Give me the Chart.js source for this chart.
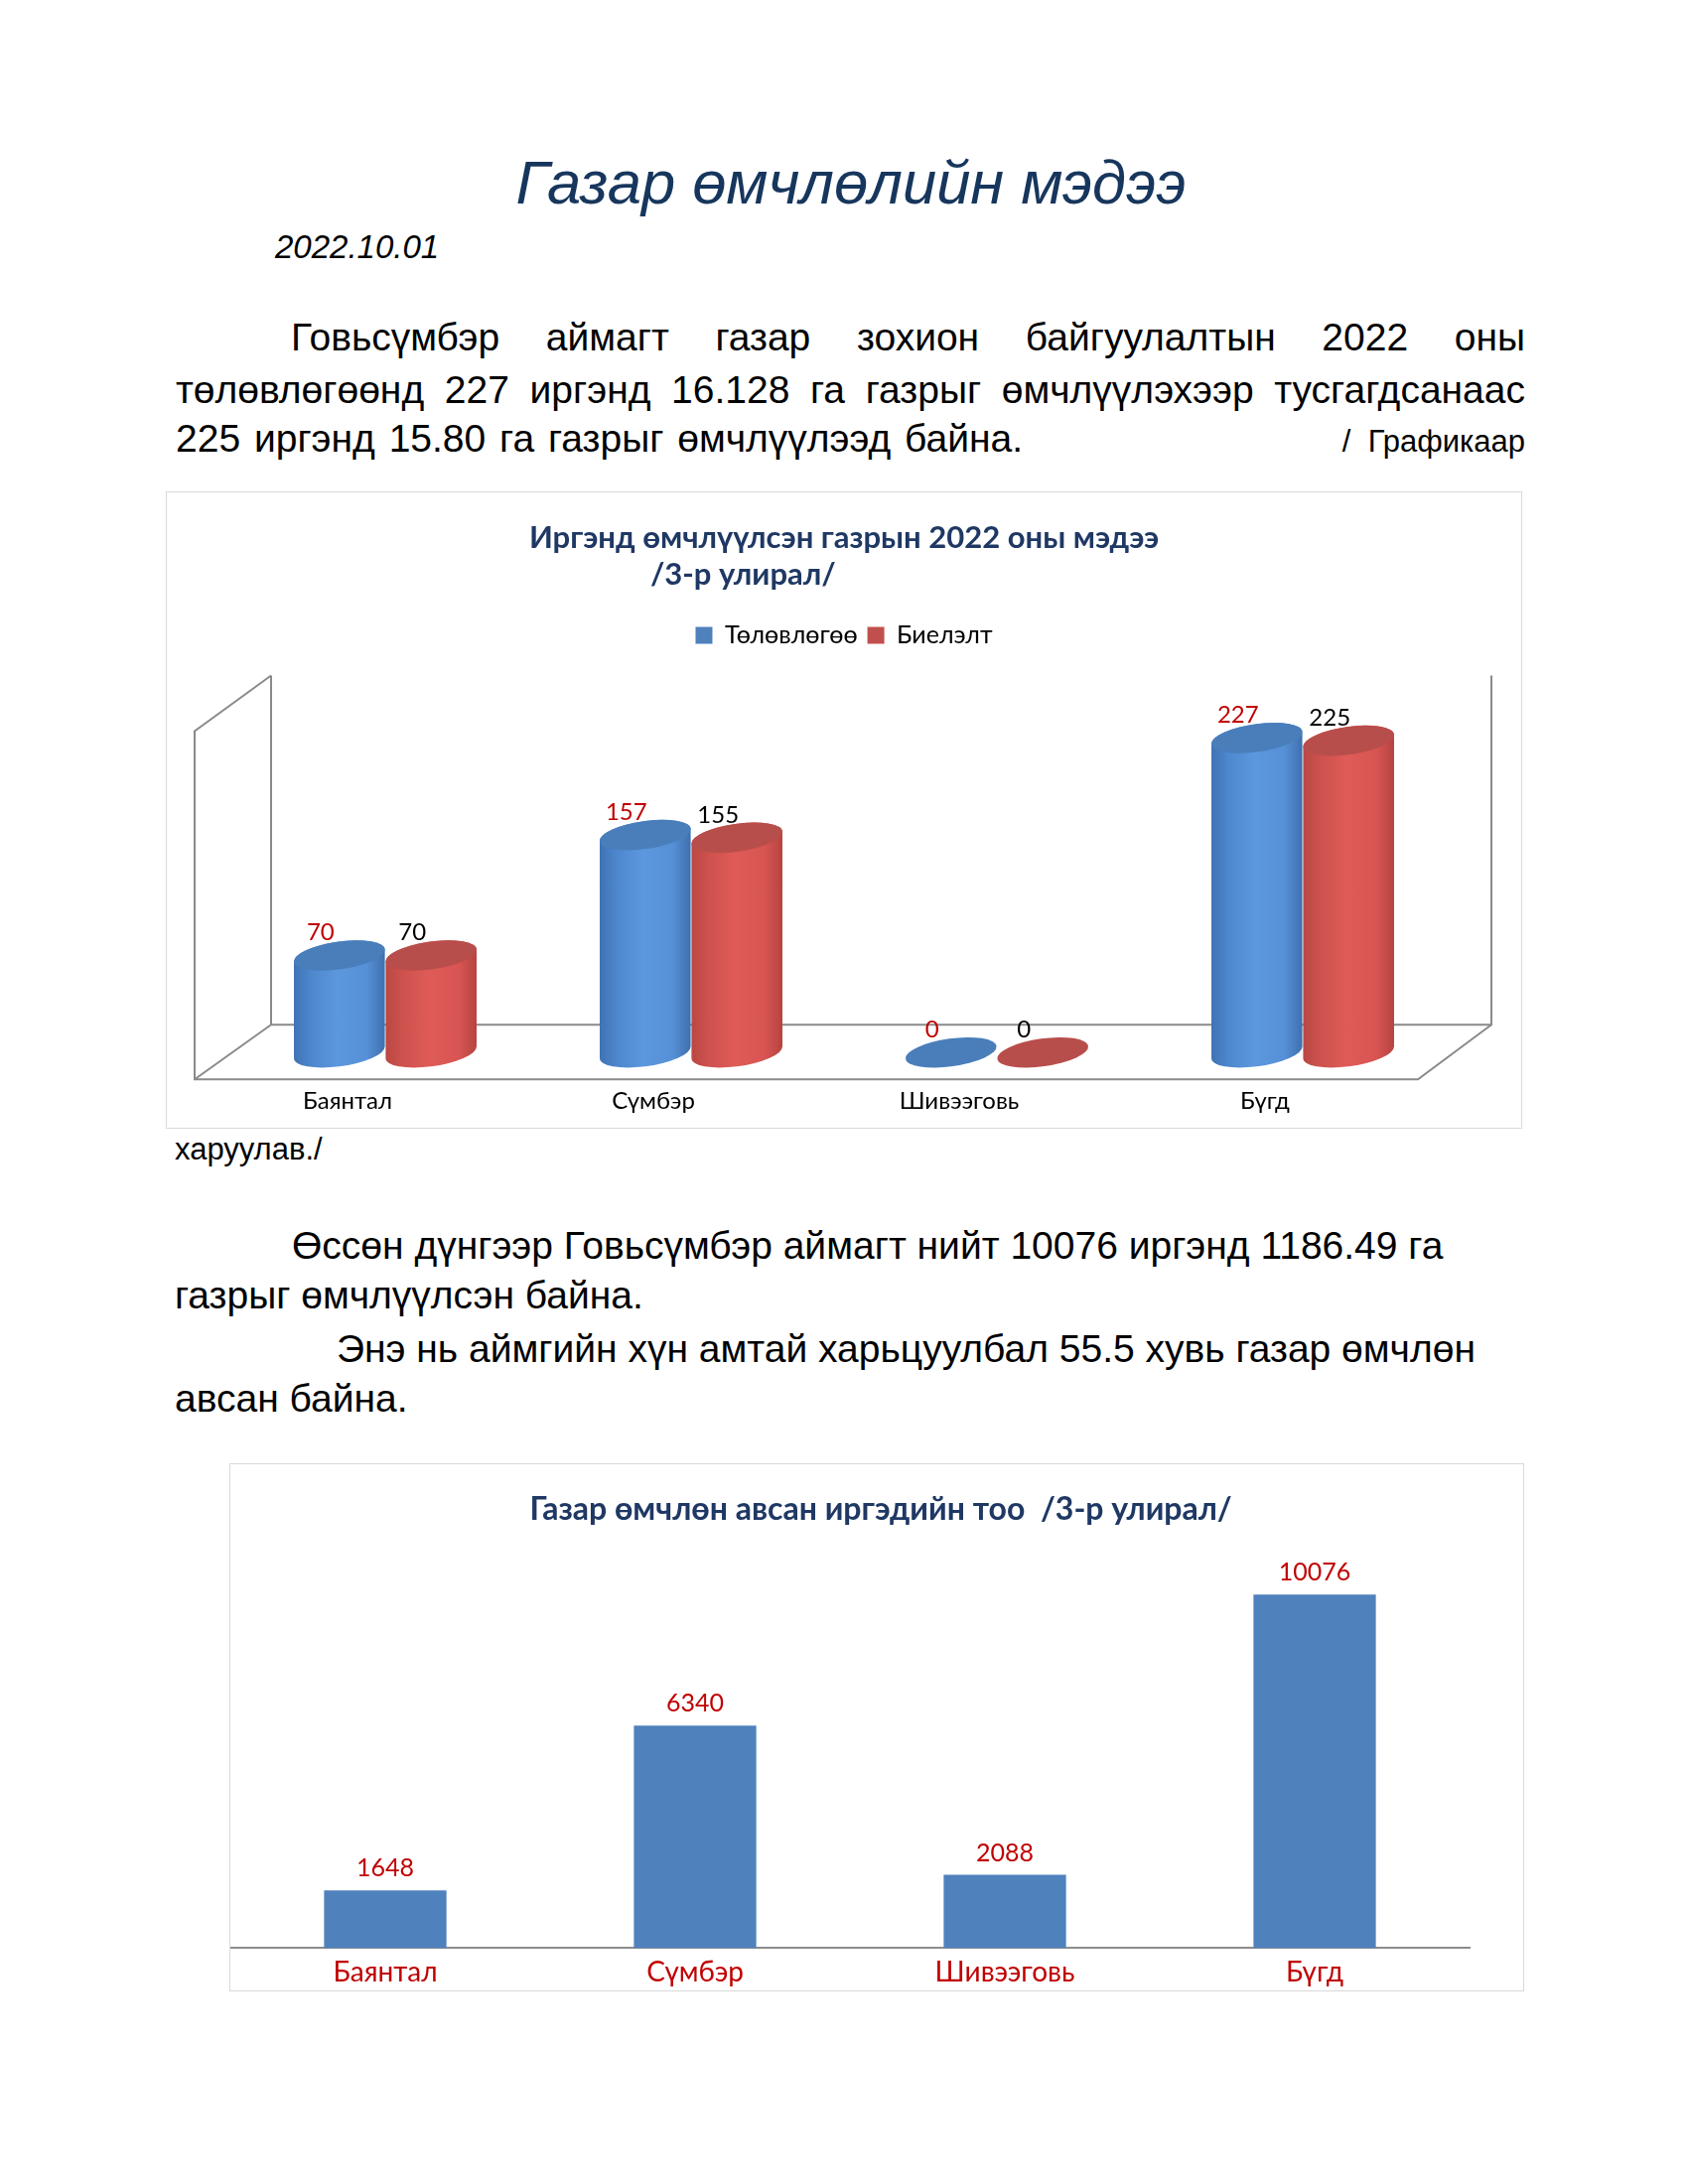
<!DOCTYPE html>
<html>
<head>
<meta charset="utf-8">
<script src="https://cdn.jsdelivr.net/npm/chart.js@4.4.0/dist/chart.umd.min.js"></script>
<style>
body{margin:0;width:1700px;height:2200px;background:#fff;position:relative;font-family:"Liberation Sans",Arial,sans-serif;color:#000;}
.t{position:absolute;white-space:nowrap;line-height:1;}
.j{text-align:justify;text-align-last:justify;white-space:normal;}
.box{position:absolute;border:1px solid #d9d9d9;}
</style>
</head>
<body>

<div class="t" style="left:357px;width:1000px;top:153px;font-size:61.5px;font-style:italic;color:#17365d;text-align:center;">Газар өмчлөлийн мэдээ</div>
<div class="t" style="left:277px;top:232px;font-size:33px;font-style:italic;">2022.10.01</div>

<div class="t j" style="left:293px;width:1243px;top:320px;font-size:39px;">Говьсүмбэр аймагт газар зохион байгуулалтын 2022 оны</div>
<div class="t j" style="left:177px;width:1359px;top:373px;font-size:39px;">төлөвлөгөөнд 227 иргэнд 16.128 га газрыг өмчлүүлэхээр тусгагдсанаас</div>
<div class="t" style="left:177px;top:422px;font-size:39px;word-spacing:3px;">225 иргэнд 15.80 га газрыг өмчлүүлээд байна.</div>
<div class="t" style="right:164px;top:429px;font-size:31px;">/&nbsp;&nbsp;Графикаар</div>

<div class="box" style="left:167px;top:495px;width:1364px;height:640px;"><canvas id="grafico1" width="1364" height="640"></canvas></div>

<div class="t" style="left:176px;top:1142px;font-size:31px;">харуулав./</div>

<div class="t" style="left:294px;top:1235px;font-size:39px;">Өссөн дүнгээр Говьсүмбэр аймагт нийт 10076 иргэнд 1186.49 га</div>
<div class="t" style="left:176px;top:1285px;font-size:39px;">газрыг өмчлүүлсэн байна.</div>
<div class="t" style="left:339px;top:1339px;font-size:39px;">Энэ нь аймгийн хүн амтай харьцуулбал 55.5 хувь газар өмчлөн</div>
<div class="t" style="left:176px;top:1389px;font-size:39px;">авсан байна.</div>

<div class="box" style="left:231px;top:1474px;width:1302px;height:530px;"><canvas id="grafico2" width="1302" height="530"></canvas></div>

<script>
// datos de los graficos
const categorias = ['Баянтал', 'Сүмбэр', 'Шивээговь', 'Бүгд'];
const nombres_series = ['Төлөвлөгөө', 'Биелэлт'];
const plan = [70, 157, 0, 227];
const biyelelt = [70, 155, 0, 225];
const irged = [1648, 6340, 2088, 10076];

const fuente = 'Lato';
const azul_titulo = '#1f3864';

// punto de una elipse rotada
function puntoElipse(cx, cy, rx, ry, rot, t){
	return [
		cx + rx*Math.cos(t)*Math.cos(rot) - ry*Math.sin(t)*Math.sin(rot),
		cy + rx*Math.cos(t)*Math.sin(rot) + ry*Math.sin(t)*Math.cos(rot)
	];
}

const coloresCilindro = [
	{stops: ['#3f72b4', '#4d86cc', '#5c98de', '#5690d6', '#3e6fae'], tapa: '#4a7ebb', texto: '#c00000'},
	{stops: ['#b94743', '#cd514d', '#df5b58', '#d85553', '#b5433f'], tapa: '#b84e4b', texto: '#000000'}
];

// dibuja el marco 3D y los cilindros a partir de las barras del grafico
const cilindros = {
	id: 'cilindros',
	beforeDatasetsDraw(chart){
		const ctx = chart.ctx;
		const area = chart.chartArea;
		const y = chart.scales.y;
		const base = y.getPixelForValue(0);
		const arriba = y.getPixelForValue(272);
		const fl = area.left - 38, bl = area.left + 39;
		const br = area.right + 36, fr = area.right - 38;
		const fondo = base - 28, frente = base + 27;
		ctx.save();
		ctx.strokeStyle = '#8a8a8a';
		ctx.lineWidth = 2;
		ctx.beginPath();
		ctx.moveTo(bl, arriba); ctx.lineTo(bl, fondo); ctx.lineTo(br, fondo); ctx.lineTo(br, arriba);
		ctx.moveTo(bl, arriba); ctx.lineTo(fl, arriba + 56); ctx.lineTo(fl, frente); ctx.lineTo(fr, frente); ctx.lineTo(br, fondo);
		ctx.moveTo(bl, fondo); ctx.lineTo(fl, frente);
		ctx.stroke();
		ctx.restore();
	},
	beforeDatasetDraw(){
		return false;
	},
	afterDatasetsDraw(chart){
		const ctx = chart.ctx;
		const rot = -0.14;
		chart.data.datasets.forEach((ds, i) => {
			const meta = chart.getDatasetMeta(i);
			const col = coloresCilindro[i];
			meta.data.forEach((bar, j) => {
				const p = bar.getProps(['x', 'y', 'base', 'width'], true);
				const rx = p.width/2, ry = 14;
				const t0 = Math.atan(-ry*Math.tan(rot)/rx);
				const izq = puntoElipse(p.x, p.y, rx, ry, rot, t0 + Math.PI);
				const der = puntoElipse(p.x, p.base, rx, ry, rot, t0);
				ctx.save();
				if (p.base - p.y > 0.5) {
					const g = ctx.createLinearGradient(p.x - rx, 0, p.x + rx, 0);
					[0, 0.18, 0.48, 0.8, 1].forEach((s, k) => g.addColorStop(s, col.stops[k]));
					ctx.beginPath();
					ctx.moveTo(izq[0], izq[1]);
					ctx.lineTo(izq[0], izq[1] + (p.base - p.y));
					ctx.ellipse(p.x, p.base, rx, ry, rot, t0 + Math.PI, t0, true);
					ctx.lineTo(der[0], der[1] - (p.base - p.y));
					ctx.ellipse(p.x, p.y, rx, ry, rot, t0, t0 - Math.PI, true);
					ctx.closePath();
					ctx.fillStyle = g;
					ctx.fill();
				}
				ctx.beginPath();
				ctx.ellipse(p.x, p.y, rx, ry, rot, 0, Math.PI*2);
				ctx.fillStyle = col.tapa;
				ctx.fill();
				// etiqueta del valor
				ctx.fillStyle = col.texto;
				ctx.font = '24px ' + fuente;
				ctx.textAlign = 'center';
				ctx.textBaseline = 'middle';
				ctx.fillText(ds.data[j], p.x - 19, p.y - 23);
				ctx.restore();
			});
		});
	}
};

// etiquetas de valor del segundo grafico
const etiquetas = {
	id: 'etiquetas',
	afterDatasetsDraw(chart){
		const ctx = chart.ctx;
		const meta = chart.getDatasetMeta(0);
		ctx.save();
		ctx.fillStyle = '#c00000';
		ctx.font = '25px ' + fuente;
		ctx.textAlign = 'center';
		ctx.textBaseline = 'middle';
		meta.data.forEach((bar, j) => {
			ctx.fillText(chart.data.datasets[0].data[j], bar.x, bar.y - 22);
		});
		ctx.restore();
	}
};

Chart.defaults.font.family = fuente;
Chart.defaults.color = '#000000';

const grafico1 = new Chart(document.querySelector('#grafico1'), {
	type: 'bar',
	data: {
		labels: categorias,
		datasets: [
			{label: nombres_series[0], data: plan, backgroundColor: '#4f81bd', borderWidth: 0},
			{label: nombres_series[1], data: biyelelt, backgroundColor: '#c0504d', borderWidth: 0}
		]
	},
	options: {
		responsive: false,
		animation: false,
		layout: {padding: {left: 66, right: 66, top: 0, bottom: -23}},
		categoryPercentage: 0.6,
		barPercentage: 1.0,
		plugins: {
			title: {
				display: true,
				text: ['Иргэнд өмчлүүлсэн газрын 2022 оны мэдээ', '/3-р улирал/' + '\u00a0'.repeat(27)],
				color: azul_titulo,
				font: {size: 31, weight: 'bold', lineHeight: 1.2},
				padding: {top: 27, bottom: 20}
			},
			legend: {
				position: 'top',
				labels: {boxWidth: 17, boxHeight: 17, padding: 10, font: {size: 25}, color: '#000'}
			},
			tooltip: {enabled: false}
		},
		scales: {
			x: {
				grid: {display: false, drawTicks: false},
				border: {display: false},
				ticks: {padding: 35, labelOffset: -38, font: {size: 24}, color: '#000'}
			},
			y: {display: false, min: 0, max: 285}
		}
	},
	plugins: [cilindros]
});

const grafico2 = new Chart(document.querySelector('#grafico2'), {
	type: 'bar',
	data: {
		labels: categorias,
		datasets: [{label: 'Иргэд', data: irged, backgroundColor: '#4f81bd', borderWidth: 0}]
	},
	options: {
		responsive: false,
		animation: false,
		layout: {padding: {left: 0, right: 54, top: 0, bottom: -7}},
		categoryPercentage: 1.0,
		barPercentage: 0.395,
		plugins: {
			title: {
				display: true,
				text: '\u00a0'.repeat(8) + 'Газар өмчлөн авсан иргэдийн тоо  /3-р улирал/',
				color: azul_titulo,
				font: {size: 32, weight: 'bold', lineHeight: 1.2},
				padding: {top: 26.6, bottom: 0}
			},
			legend: {display: false},
			tooltip: {enabled: false}
		},
		scales: {
			x: {
				grid: {display: false, drawTicks: false},
				border: {display: true, color: '#8c8c8c', width: 2},
				ticks: {padding: 8, font: {size: 28}, color: '#c00000'}
			},
			y: {display: false, min: 0, max: 11950}
		}
	},
	plugins: [etiquetas]
});
</script>
</body>
</html>
